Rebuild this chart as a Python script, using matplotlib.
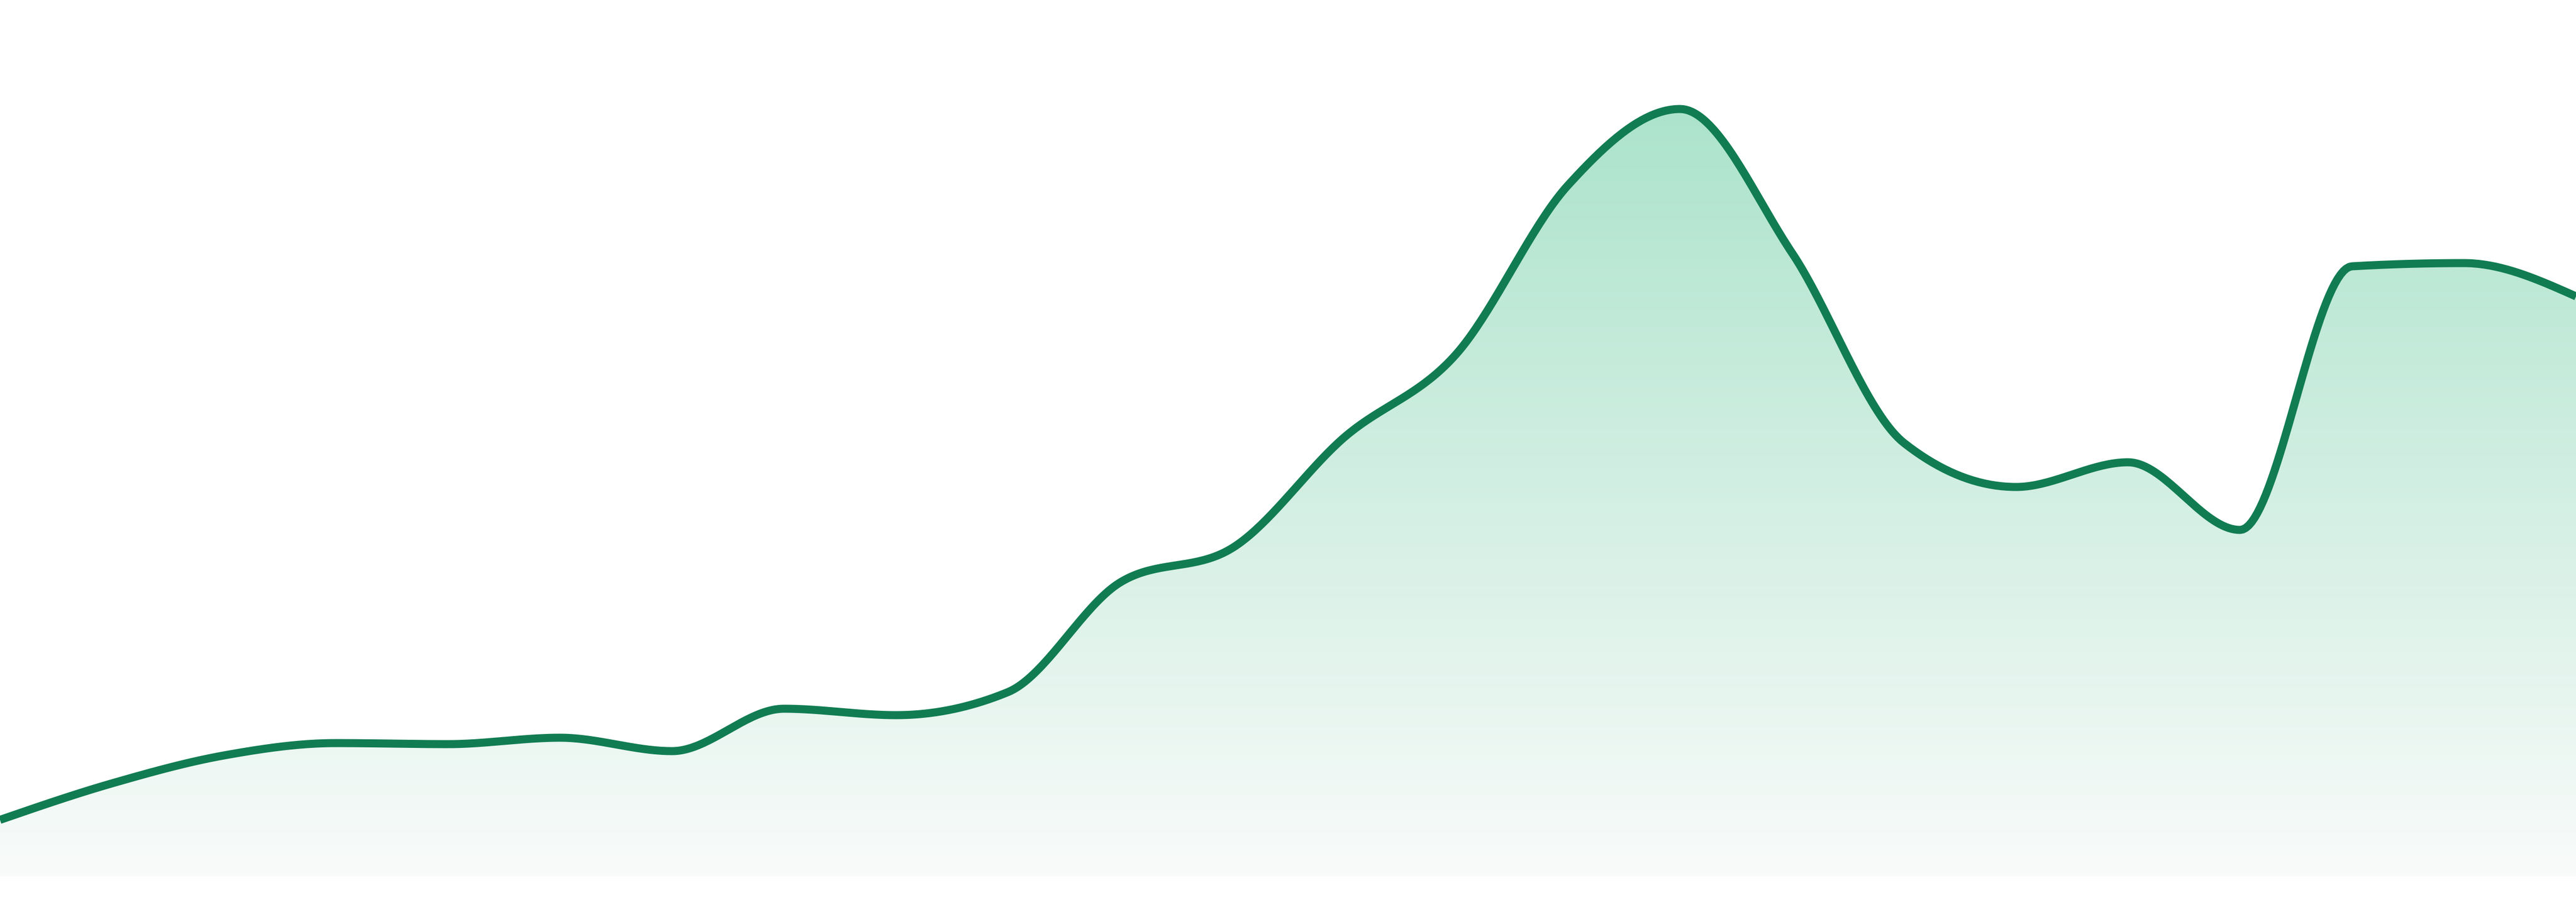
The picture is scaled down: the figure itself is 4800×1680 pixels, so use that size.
import numpy as np
import matplotlib
matplotlib.use('Agg')
import matplotlib.pyplot as plt
from matplotlib.colors import LinearSegmentedColormap
from matplotlib.patches import Polygon


# one value per step
steps = list(range(24))
values = [10.5, 17.3, 22.5, 24.8, 24.6, 25.8, 23.3, 31.2, 30.0, 34.3, 54.7, 61.1,
          81.7, 97.2, 128.7, 142.9, 116.1, 80.7, 72.5, 77.1, 64.5, 113.6, 114.2, 108.0]

line_color = '#117c52'
fill_top = '#ace3cc'
fill_bottom = '#f9fbfa'


def monotone_curve(x, y, n=40):
    # same shape as d3.curveMonotoneX
    x = np.asarray(x, dtype=float)
    y = np.asarray(y, dtype=float)
    h = np.diff(x)
    s = np.diff(y) / h
    t = np.zeros(len(x))
    for i in range(1, len(x) - 1):
        p = (s[i - 1] * h[i] + s[i] * h[i - 1]) / (h[i - 1] + h[i])
        t[i] = (np.sign(s[i - 1]) + np.sign(s[i])) * min(abs(s[i - 1]), abs(s[i]), 0.5 * abs(p))
    t[0] = (3 * s[0] - t[1]) / 2
    t[-1] = (3 * s[-1] - t[-2]) / 2

    xs, ys = [], []
    u = np.linspace(0, 1, n)
    for i in range(len(x) - 1):
        dx = h[i] / 3
        p0 = (x[i], y[i])
        p1 = (x[i] + dx, y[i] + dx * t[i])
        p2 = (x[i + 1] - dx, y[i + 1] - dx * t[i + 1])
        p3 = (x[i + 1], y[i + 1])
        bx = (1 - u) ** 3 * p0[0] + 3 * (1 - u) ** 2 * u * p1[0] + 3 * (1 - u) * u ** 2 * p2[0] + u ** 3 * p3[0]
        by = (1 - u) ** 3 * p0[1] + 3 * (1 - u) ** 2 * u * p1[1] + 3 * (1 - u) * u ** 2 * p2[1] + u ** 3 * p3[1]
        xs.extend(bx[:-1])
        ys.extend(by[:-1])
    xs.append(x[-1])
    ys.append(y[-1])
    return np.array(xs), np.array(ys)


fig = plt.figure(figsize=(16, 5.6), dpi=300)
ax = fig.add_axes([0, 0, 1, 1])

cx, cy = monotone_curve(steps, values)

# gradient fill under the line
poly = Polygon(np.column_stack([np.r_[cx, cx[-1], cx[0]], np.r_[cy, 0, 0]]),
               closed=True, facecolor='none', edgecolor='none')
ax.add_patch(poly)
cmap = LinearSegmentedColormap.from_list('fade', [fill_bottom, fill_top])
grad = np.linspace(0, 1, 256).reshape(-1, 1)
img = ax.imshow(grad, cmap=cmap, origin='lower', aspect='auto',
                extent=[steps[0], steps[-1], 0, max(values)], zorder=1)
img.set_clip_path(poly)

ax.plot(cx, cy, color=line_color, lw=3.6, zorder=2, solid_capstyle='butt')

ax.set_xlim(steps[0], steps[-1])
ax.set_ylim(-4.8, 163.2)
ax.axis('off')

fig.savefig('out.png', dpi=300, facecolor='white')
